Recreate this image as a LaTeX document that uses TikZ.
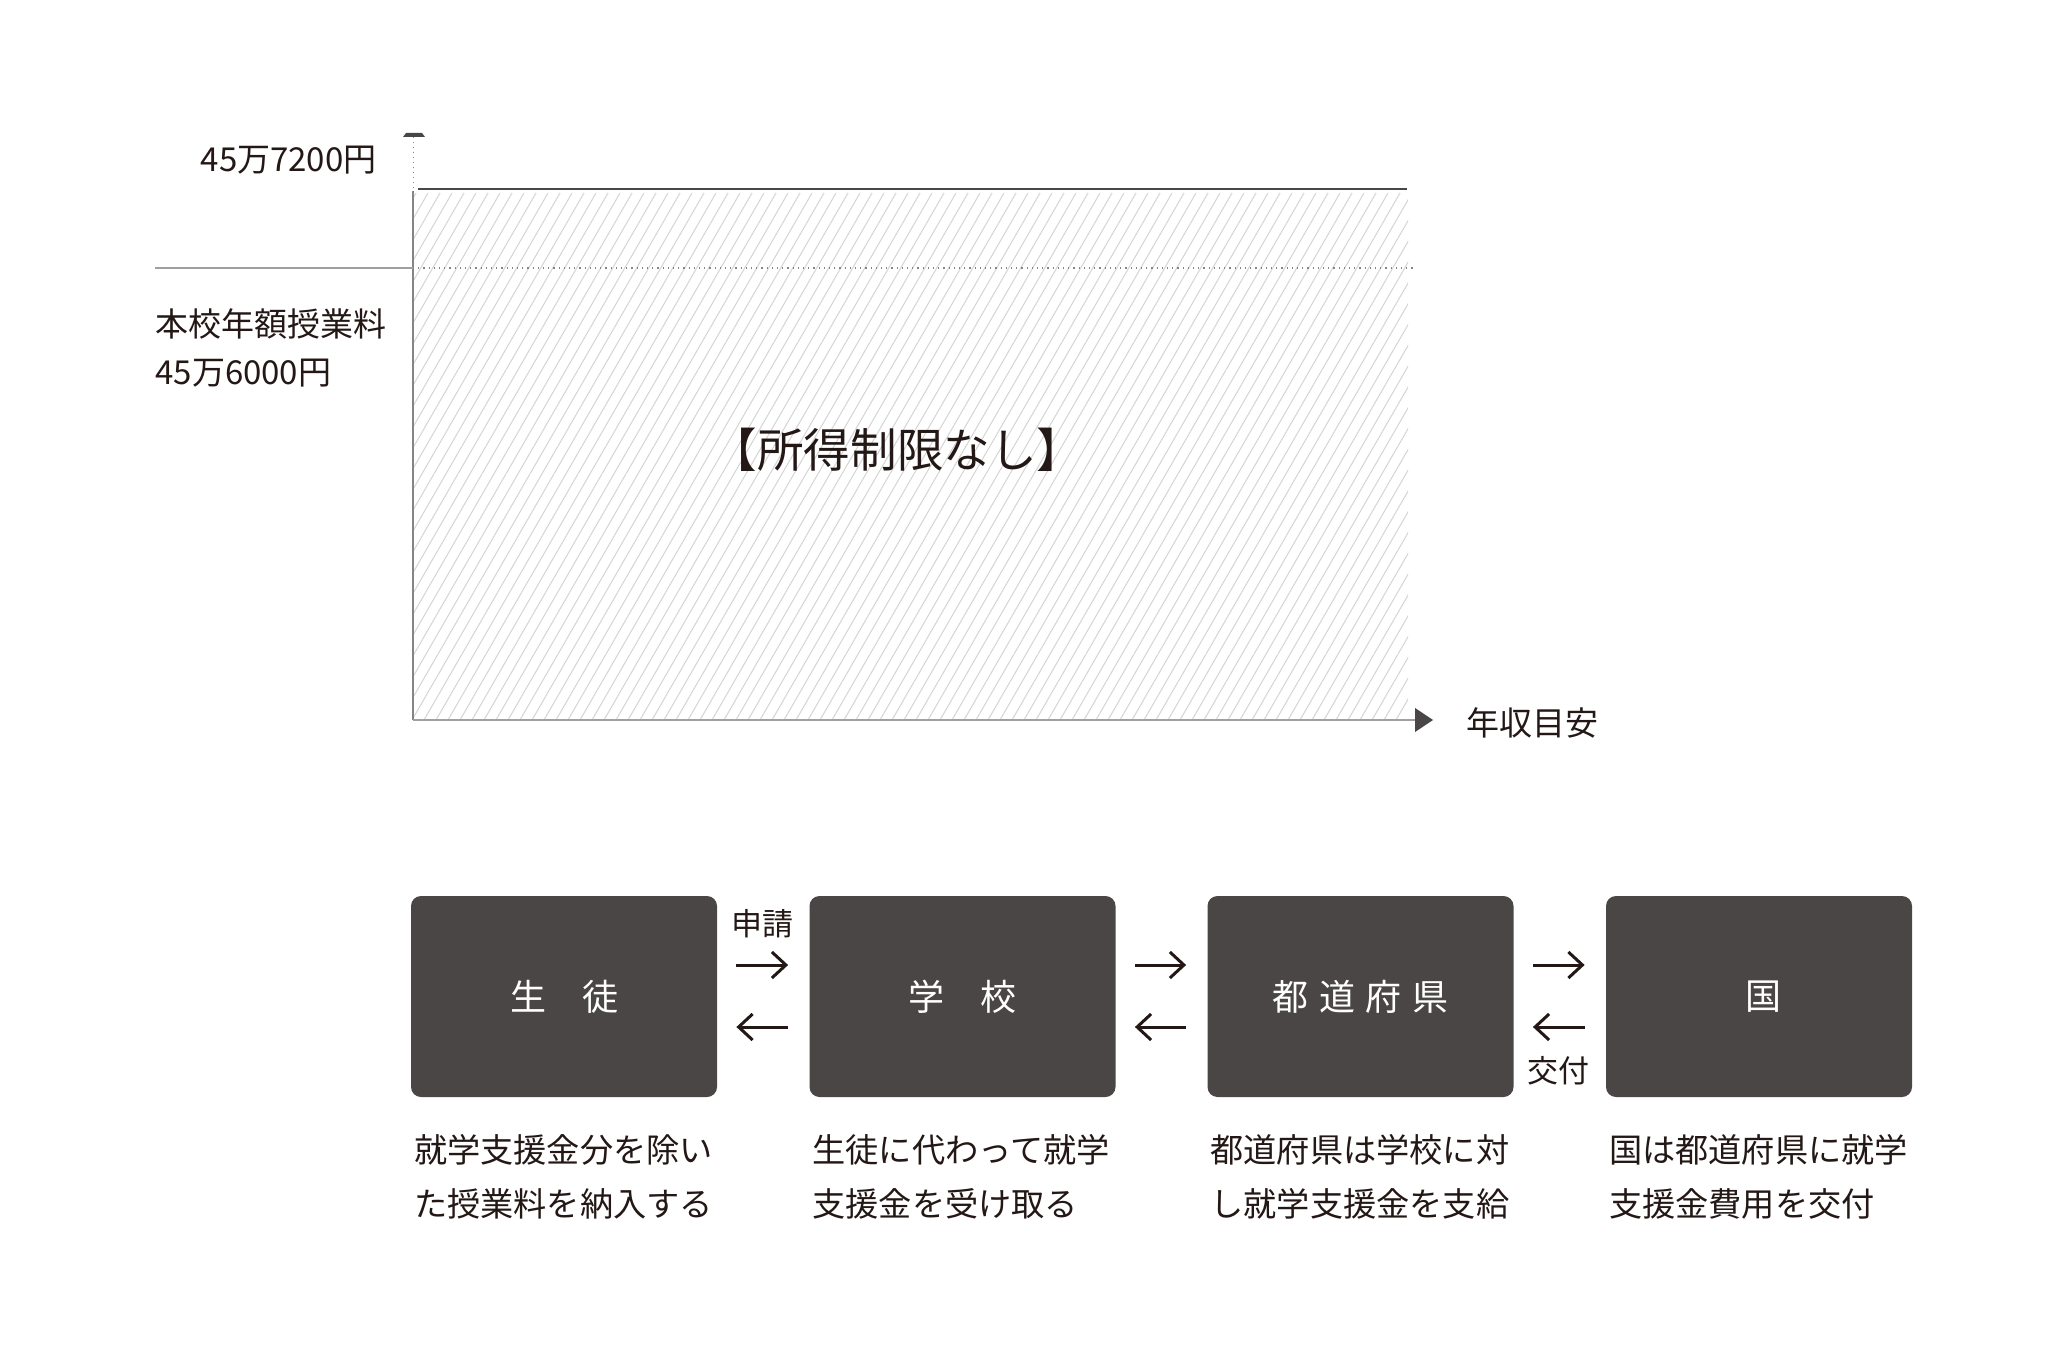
\documentclass[tikz,border=0pt]{standalone}
\usepackage{fontspec}
\setmainfont{Noto Sans CJK JP}
\newfontfamily\spacedfont[LetterSpace=30]{Noto Sans CJK JP}
\usetikzlibrary{arrows.meta}
\definecolor{ink}{HTML}{231815}
\definecolor{boxc}{HTML}{4A4645}
\definecolor{axisc}{HTML}{858585}
\definecolor{hatchc}{HTML}{D4D4D4}
\definecolor{lightc}{HTML}{A0A0A0}
\tikzset{
  flowbox/.style={fill=boxc, rounded corners=5pt, minimum width=153pt, minimum height=100.5pt,
    text=white, font=\fontsize{18pt}{22pt}\selectfont, inner sep=0pt},
  flowarr/.style={draw=ink, line width=1.5pt, -{Straight Barb[length=7pt,width=13pt]}},
  desc/.style={text=ink, font=\fontsize{16.6pt}{27pt}\selectfont, align=left, inner sep=0pt, anchor=north west},
  axlabel/.style={text=ink, font=\fontsize{16.5pt}{24pt}\selectfont, inner sep=0pt},
  arrlabel/.style={text=ink, font=\fontsize{15.5pt}{18pt}\selectfont, inner sep=0pt},
}
\begin{document}
\begin{tikzpicture}[x=0.5pt,y=-0.5pt]
\useasboundingbox (0,0) rectangle (2055,1352);
% hatched area
\begin{scope}
  \clip (413,193) rectangle (1408,720);
  \foreach \i in {0,...,112} {
    \draw[hatchc, line width=0.5pt] (100+\i*12,720) -- ++(304,-527);
  }
\end{scope}
% axes
\draw[axisc, line width=0.5pt, dotted] (413,137) -- (413,190);
\fill[boxc] (403,137) -- (406,133) -- (422,133) -- (425,137) -- cycle;
\draw[axisc, line width=1pt] (413,191) -- (413,720);
\draw[lightc, line width=1pt] (413,720) -- (1416,720);
\fill[boxc] (1415,708) -- (1433,720) -- (1415,732) -- cycle;
% levels
\draw[lightc, line width=0.8pt] (155,268) -- (413,268);
\draw[axisc, line width=0.6pt, dotted] (413,268) -- (1413,268);
\draw[boxc, line width=1.3pt] (418,189) -- (1407,189);
% chart labels
\node[axlabel, anchor=east] (v1) at (377,160) {45万7200円};
\node[axlabel, anchor=north west, align=left] (v2) at (155,308) {本校年額授業料\\45万6000円};
\node[axlabel, anchor=west] (xl) at (1466,723) {年収目安};
\node[text=ink, font=\fontsize{23.3pt}{27pt}\selectfont] (main) at (897,450) {【所得制限なし】};
% flow boxes
\node[flowbox] (s) at (564,996.5) {生　徒};
\node[flowbox] (g) at (962.5,996.5) {学　校};
\node[flowbox, font=\fontsize{18pt}{22pt}\spacedfont] (t) at (1360.5,996.5) {都道府県};
\node[flowbox] (k) at (1759,996.5) {\hspace{4pt}国};
% arrows
\draw[flowarr, shorten <=9.5pt, shorten >=10.5pt] ([yshift=15.75pt]s.east) -- ([yshift=15.75pt]g.west);
\draw[flowarr, shorten <=10.5pt, shorten >=9.5pt] ([yshift=-15.25pt]g.west) -- ([yshift=-15.25pt]s.east);
\draw[flowarr, shorten <=9.5pt, shorten >=10.5pt] ([yshift=15.75pt]g.east) -- ([yshift=15.75pt]t.west);
\draw[flowarr, shorten <=10.5pt, shorten >=9.5pt] ([yshift=-15.25pt]t.west) -- ([yshift=-15.25pt]g.east);
\draw[flowarr, shorten <=9.5pt, shorten >=10.5pt] ([yshift=15.75pt]t.east) -- ([yshift=15.75pt]k.west);
\draw[flowarr, shorten <=10.5pt, shorten >=9.5pt] ([yshift=-15.25pt]k.west) -- ([yshift=-15.25pt]t.east);
\node[arrlabel] (l1) at (762,924) {申請};
\node[arrlabel] (l2) at (1558,1071) {交付};
% descriptions
\node[desc] (d1) at ([xshift=1.5pt, yshift=-18.5pt]s.south west) {就学支援金分を除い\\た授業料を納入する};
\node[desc] (d2) at ([xshift=1.5pt, yshift=-18.5pt]g.south west) {生徒に代わって就学\\支援金を受け取る};
\node[desc] (d3) at ([xshift=1.5pt, yshift=-18.5pt]t.south west) {都道府県は学校に対\\し就学支援金を支給};
\node[desc] (d4) at ([xshift=1.5pt, yshift=-18.5pt]k.south west) {国は都道府県に就学\\支援金費用を交付};
\end{tikzpicture}
\end{document}
